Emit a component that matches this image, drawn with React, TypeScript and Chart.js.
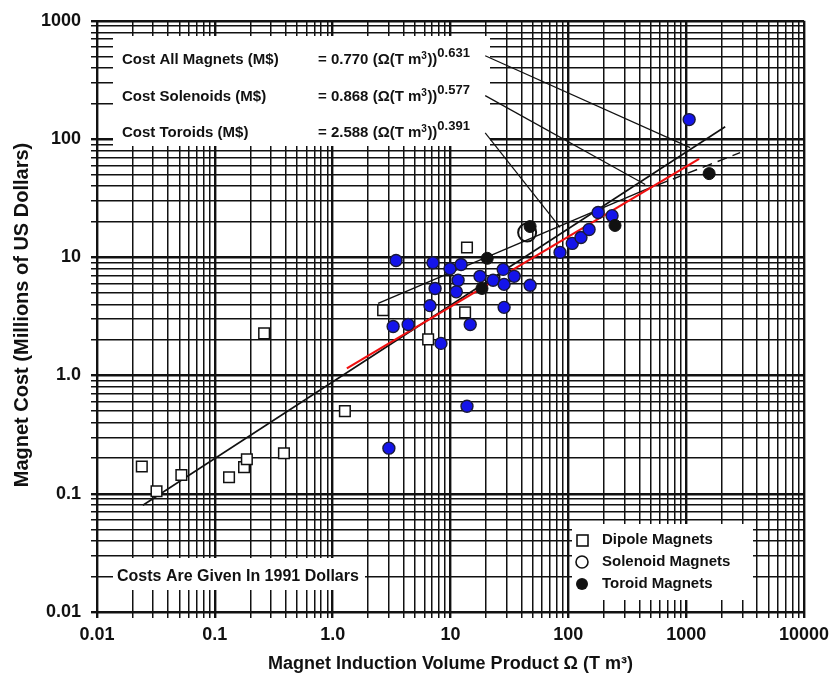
import React, { useEffect, useRef } from 'react';
import { Chart, registerables } from 'chart.js';

Chart.register(...registerables);

// Axis ticks
const xTickValues = [0.01, 0.1, 1, 10, 100, 1000, 10000];
const xTickLabels = ['0.01', '0.1', '1.0', '10', '100', '1000', '10000'];
const yTickValues = [0.01, 0.1, 1, 10, 100, 1000];
const yTickLabels = ['0.01', '0.1', '1.0', '10', '100', '1000'];

// Dipole magnets (open squares)
const dipoleX = [0.024, 0.032, 0.052, 0.132, 0.177, 0.187, 0.386, 1.27, 0.262, 2.68, 6.46, 13.3, 13.8, 29];
const dipoleY = [0.17, 0.105, 0.144, 0.138, 0.168, 0.196, 0.22, 0.5, 2.27, 3.56, 2.02, 3.42, 12.1, 7.0];

// Solenoid magnets (open circle)
const solenoidOpenX = [44.7];
const solenoidOpenY = [16.2];

// Solenoid magnets (blue filled)
const blueX = [3.45, 7.1, 9.9, 12.3, 11.6, 11.2, 7.4, 6.7, 3.26, 4.37, 8.3, 14.7, 17.8, 23, 28, 34.7, 28.5, 47.4, 28.5, 85, 108, 128, 150, 179, 235, 1060, 13.8, 3.0];
const blueY = [9.4, 9.0, 8.0, 8.7, 6.4, 5.1, 5.45, 3.9, 2.6, 2.7, 1.87, 2.7, 6.9, 6.4, 7.9, 6.9, 5.9, 5.8, 3.77, 11, 13.1, 14.7, 17.2, 23.9, 22.5, 146, 0.55, 0.243];

// Toroid magnets (black filled)
const toroidX = [20.5, 18.5, 47.4, 249, 1567];
const toroidY = [9.8, 5.45, 18.2, 18.6, 51];

// Fit lines
const allFitX = [0.0245, 2143];
const allFitY = [0.08, 127];
const solenoidFitX = [1.32, 1288];
const solenoidFitY = [1.15, 68];
const toroidFitX = [2.43, 431];
const toroidFitY = [4.07, 36.6];
const toroidDashX = [431, 2870];
const toroidDashY = [36.6, 76.7];

// Leader lines from formulas
const leader1X = [19.7, 1081];
const leader1Y = [506, 84.6];
const leader2X = [19.7, 449];
const leader2Y = [233, 41.2];
const leader3X = [19.7, 85];
const leader3Y = [113, 17.9];

// Texts
const formulaNames = ['Cost All Magnets (M$)', 'Cost Solenoids (M$)', 'Cost Toroids (M$)'];
const formulaCoefs = ['0.770', '0.868', '2.588'];
const formulaExps = ['0.631', '0.577', '0.391'];
const legendNames = ['Dipole Magnets', 'Solenoid Magnets', 'Toroid Magnets'];
const noteText = 'Costs Are Given In 1991 Dollars';
const xTitle = 'Magnet Induction Volume Product \u03A9 (T m\u00B3)';
const yTitle = 'Magnet Cost (Millions of US Dollars)';

const FONT = '"Liberation Sans", Arial, Helvetica, sans-serif';
const INK = '#111';

const pts = (xs: number[], ys: number[]) => xs.map((x, i) => ({ x, y: ys[i] }));

const buildLogTicks = (min: number, max: number) => {
  const t: { value: number; major: boolean }[] = [];
  const e0 = Math.round(Math.log10(min));
  const e1 = Math.round(Math.log10(max));
  for (let e = e0; e < e1; e++) {
    for (let m = 1; m < 10; m++) t.push({ value: m * Math.pow(10, e), major: m === 1 });
  }
  t.push({ value: Math.pow(10, e1), major: true });
  return t;
};

const labelFor = (vals: number[], labels: string[]) => (v: number) => {
  const k = vals.findIndex((t) => Math.abs(Math.log10(t) - Math.log10(v)) < 1e-6);
  return k >= 0 ? labels[k] : '';
};

const overlayPlugin = {
  id: 'overlay',
  beforeDatasetsDraw(chart: any) {
    const ctx = chart.ctx as CanvasRenderingContext2D;
    ctx.save();
    ctx.fillStyle = '#fff';
    ctx.fillRect(113, 36, 377, 110);
    ctx.fillRect(113, 558, 252, 32);
    ctx.fillRect(572, 524, 181, 76);

    ctx.fillStyle = INK;
    ctx.textBaseline = 'middle';
    ctx.textAlign = 'left';
    const rows = [60, 97, 133];
    rows.forEach((y, i) => {
      ctx.font = `bold 15px ${FONT}`;
      ctx.fillText(formulaNames[i], 122, y);
      let x = 318;
      const s1 = `= ${formulaCoefs[i]} (\u03A9(T m`;
      ctx.fillText(s1, x, y);
      x += ctx.measureText(s1).width;
      ctx.font = `bold 10px ${FONT}`;
      ctx.fillText('3', x, y - 4);
      x += ctx.measureText('3').width + 0.5;
      ctx.font = `bold 15px ${FONT}`;
      ctx.fillText('))', x, y);
      x += ctx.measureText('))').width;
      ctx.font = `bold 13px ${FONT}`;
      ctx.fillText(formulaExps[i], x, y - 7);
    });

    ctx.font = `bold 16px ${FONT}`;
    ctx.fillText(noteText, 117, 577);

    // legend
    const ly = [540, 562, 584];
    ctx.lineWidth = 1.6;
    ctx.strokeStyle = INK;
    ctx.fillStyle = '#fff';
    ctx.fillRect(577, 535, 11, 11);
    ctx.strokeRect(577, 535, 11, 11);
    ctx.beginPath();
    ctx.arc(582, 562, 6, 0, Math.PI * 2);
    ctx.fill();
    ctx.stroke();
    ctx.fillStyle = INK;
    ctx.beginPath();
    ctx.arc(582, 584, 6, 0, Math.PI * 2);
    ctx.fill();
    ctx.font = `bold 15px ${FONT}`;
    legendNames.forEach((n, i) => ctx.fillText(n, 602, ly[i]));
    ctx.restore();
  },
  afterDraw(chart: any) {
    const ctx = chart.ctx as CanvasRenderingContext2D;
    const a = chart.chartArea;
    ctx.save();
    ctx.fillStyle = INK;
    ctx.font = `bold 18px ${FONT}`;
    ctx.textAlign = 'center';
    ctx.textBaseline = 'middle';
    ctx.fillText(xTitle, (a.left + a.right) / 2, 664);
    ctx.font = `bold 20px ${FONT}`;
    ctx.translate(22, 315);
    ctx.rotate(-Math.PI / 2);
    ctx.fillText(yTitle, 0, 0);
    ctx.restore();
  },
};

export default function App() {
  const ref = useRef<HTMLCanvasElement>(null);
  useEffect(() => {
    const canvas = ref.current;
    if (!canvas) return;
    const line = (xs: number[], ys: number[], color: string, width: number, order: number, dash: number[] = []) => ({
      type: 'line' as const,
      data: pts(xs, ys),
      borderColor: color,
      borderWidth: width,
      borderDash: dash,
      pointRadius: 0,
      showLine: true,
      fill: false,
      order,
    });
    const gridWidth = (c: any) => (c.tick && c.tick.major ? 2.4 : 1.5);
    const chart = new Chart(canvas, {
      type: 'scatter',
      data: {
        datasets: [
          { label: 'Toroid Magnets', data: pts(toroidX, toroidY), pointStyle: 'circle', pointRadius: 6, backgroundColor: INK, borderColor: INK, borderWidth: 1, order: 1 },
          { label: 'Solenoid Magnets', data: pts(solenoidOpenX, solenoidOpenY), pointStyle: 'circle', pointRadius: 9, backgroundColor: 'rgba(0,0,0,0)', borderColor: INK, borderWidth: 2, order: 2 },
          { label: 'Solenoid (blue)', data: pts(blueX, blueY), pointStyle: 'circle', pointRadius: 6, backgroundColor: '#1414ea', borderColor: '#1a1a3a', borderWidth: 1.4, order: 3 },
          { label: 'Dipole Magnets', data: pts(dipoleX, dipoleY), pointStyle: 'rect', pointRadius: 7.5, backgroundColor: '#fff', borderColor: INK, borderWidth: 1.5, order: 4 },
          line(solenoidFitX, solenoidFitY, '#f01010', 2.2, 5),
          line(allFitX, allFitY, INK, 1.6, 6),
          line(toroidFitX, toroidFitY, INK, 1.4, 7),
          line(toroidDashX, toroidDashY, INK, 1.4, 8, [10, 6]),
          line(leader1X, leader1Y, INK, 1.2, 9),
          line(leader2X, leader2Y, INK, 1.2, 10),
          line(leader3X, leader3Y, INK, 1.2, 11),
        ] as any,
      },
      options: {
        responsive: false,
        animation: false,
        events: [],
        layout: { padding: { left: 0, top: 17, right: 35, bottom: 0 } },
        plugins: { legend: { display: false }, tooltip: { enabled: false }, title: { display: false } },
        scales: {
          x: {
            type: 'logarithmic',
            min: 0.01,
            max: 10000,
            afterBuildTicks: (s: any) => { s.ticks = buildLogTicks(0.01, 10000); },
            afterFit: (s: any) => { s.height = 67; },
            grid: { color: INK, lineWidth: gridWidth, drawTicks: true, tickLength: 6 },
            border: { color: INK, width: 2 },
            ticks: {
              autoSkip: false,
              maxRotation: 0,
              padding: 6,
              color: INK,
              font: { family: FONT, size: 18, weight: 'bold' },
              callback: (v: any) => labelFor(xTickValues, xTickLabels)(Number(v)),
            },
          },
          y: {
            type: 'logarithmic',
            min: 0.01,
            max: 1000,
            afterBuildTicks: (s: any) => { s.ticks = buildLogTicks(0.01, 1000); },
            afterFit: (s: any) => { s.width = 97; },
            grid: { color: INK, lineWidth: gridWidth, drawTicks: true, tickLength: 6 },
            border: { color: INK, width: 2 },
            ticks: {
              autoSkip: false,
              padding: 10,
              color: INK,
              font: { family: FONT, size: 18, weight: 'bold' },
              callback: (v: any) => labelFor(yTickValues, yTickLabels)(Number(v)),
            },
          },
        },
      } as any,
      plugins: [overlayPlugin],
    });
    return () => chart.destroy();
  }, []);
  return (
    <div style={{ position: 'absolute', left: 0, top: 0, width: 839, height: 679, background: '#fff' }}>
      <canvas ref={ref} width={839} height={679} style={{ display: 'block', width: 839, height: 679 }} />
    </div>
  );
}
